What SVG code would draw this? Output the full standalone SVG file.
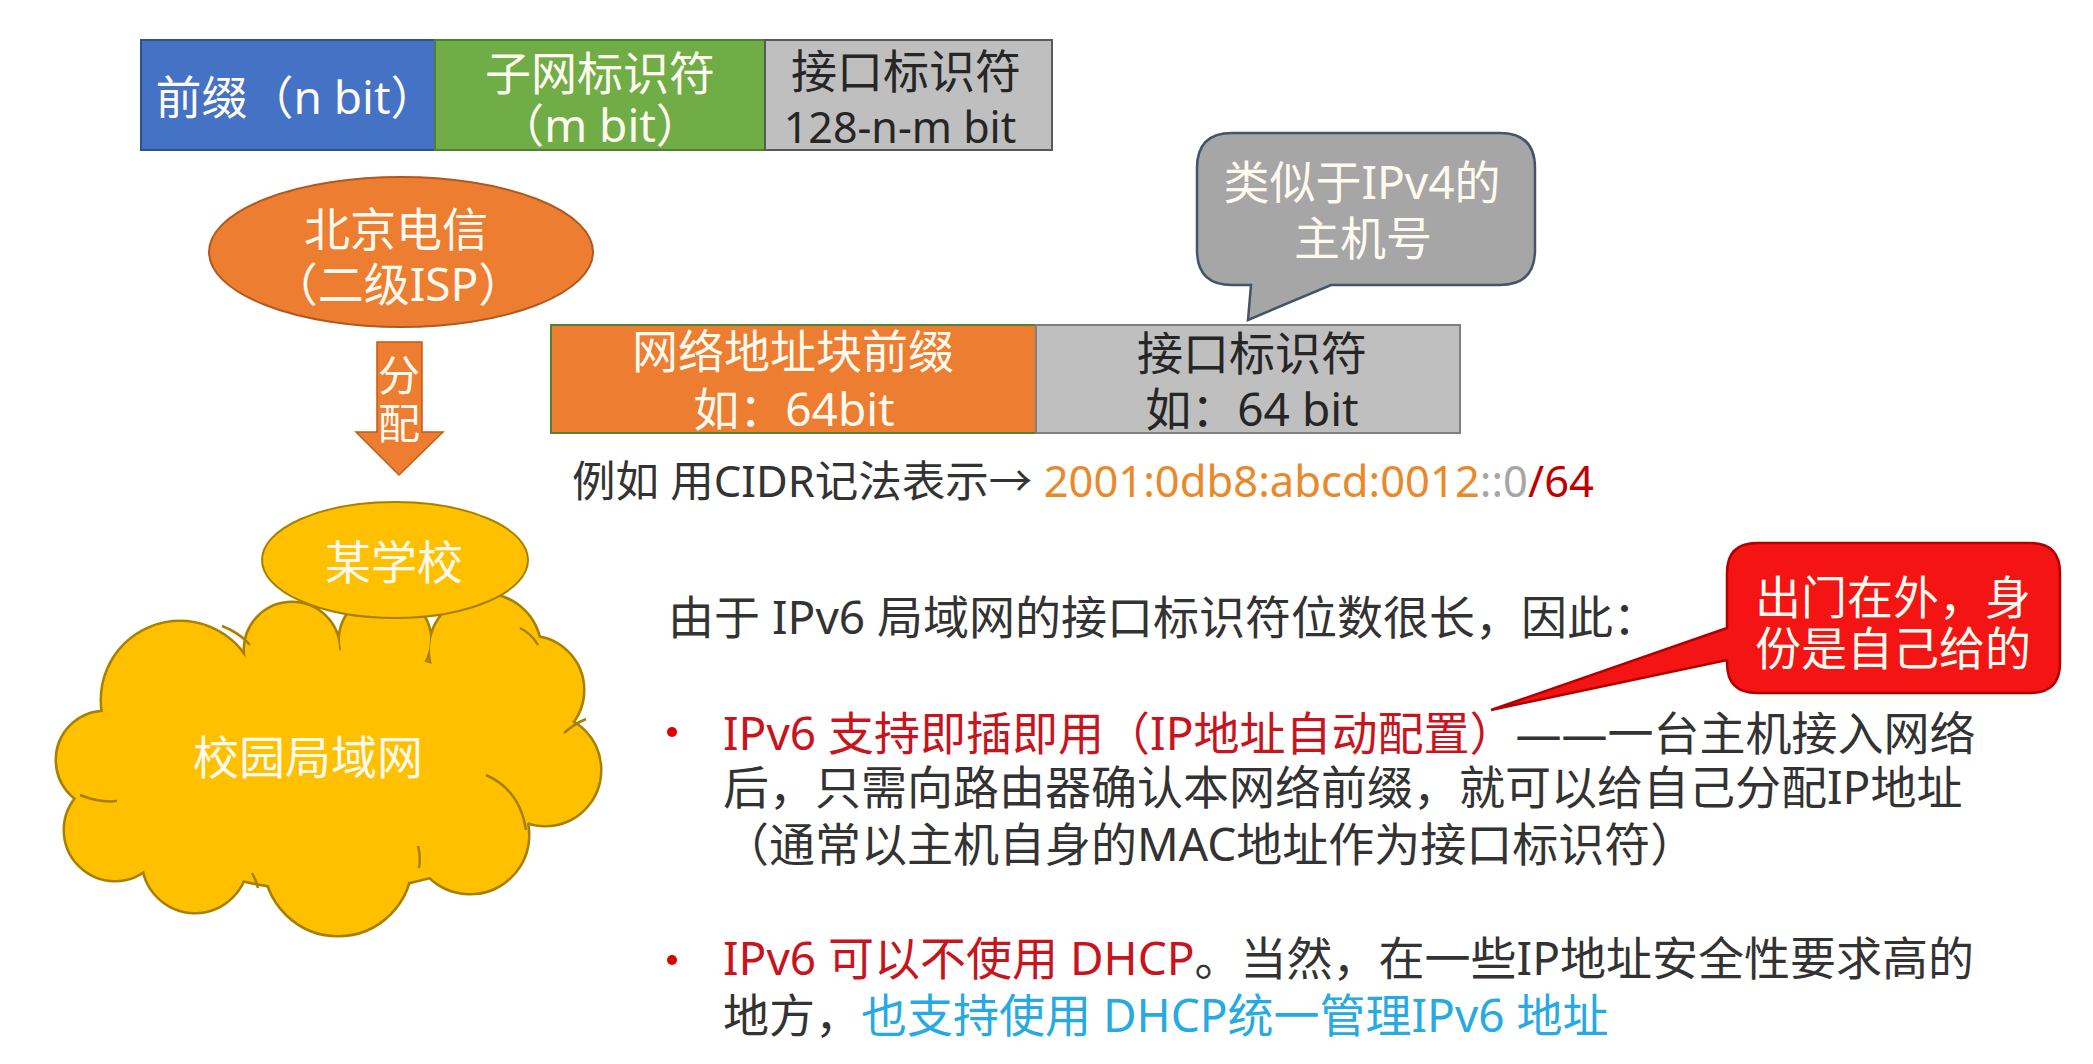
<svg xmlns="http://www.w3.org/2000/svg" xmlns:xlink="http://www.w3.org/1999/xlink" width="2093" height="1064" viewBox="0 0 2093 1064">
<style>
text{font-family:"Noto Sans","Noto Sans CJK SC",sans-serif;font-size:46px}
.w{fill:#FFFAF0}
.k{fill:#262626}
.body{fill:#333333}
.red{fill:#C8141C}
.blue{fill:#27A9E1}
.mid{text-anchor:middle}
.inner{fill:none;stroke:#A88000;stroke-width:2.5}
</style>
<defs>
<g id="cloudShapes">
<ellipse cx="330" cy="770" rx="220" ry="120"/>
<circle cx="105" cy="760" r="48"/>
<circle cx="115" cy="830" r="50"/>
<circle cx="195" cy="860" r="52"/>
<circle cx="338" cy="862" r="73"/>
<circle cx="470" cy="835" r="58"/>
<circle cx="545" cy="770" r="55"/>
<circle cx="530" cy="690" r="53"/>
<circle cx="485" cy="650" r="55"/>
<circle cx="385" cy="640" r="45"/>
<circle cx="292" cy="650" r="47"/>
<circle cx="180" cy="700" r="78"/>
</g>
</defs>
<rect width="2093" height="1064" fill="#FFFFFF"/>

<g id="top-bar">
<rect x="141" y="40" width="294" height="110" fill="#4472C4" stroke="#2F528F" stroke-width="2"/>
<rect x="435" y="40" width="330" height="110" fill="#70AD47" stroke="#507E32" stroke-width="2"/>
<rect x="765" y="40" width="287" height="110" fill="#BFBFBF" stroke="#595959" stroke-width="2"/>
<text class="w mid" x="296" y="114">前缀（n bit）</text>
<text class="w mid" x="600" y="90">子网标识符</text>
<text class="w mid" x="600" y="142">（m bit）</text>
<text class="k mid" x="906" y="88">接口标识符</text>
<text class="k mid" x="900" y="143" style="font-size:43px">128-n-m bit</text>
</g>

<g id="isp">
<ellipse cx="401" cy="252" rx="192" ry="75" fill="#ED7D31" stroke="#AE5A21" stroke-width="2"/>
<text class="w mid" x="396" y="246">北京电信</text>
<text class="w mid" x="398" y="301">（二级ISP）</text>
</g>

<g id="allocate-arrow">
<path d="M377,342 H422 V432 H443 L399,475 L356,432 H377 Z" fill="#ED7D31" stroke="#C55A11" stroke-width="1.5"/>
<text class="w mid" x="399" y="391" style="font-size:42px">分</text>
<text class="w mid" x="399" y="439" style="font-size:42px">配</text>
</g>

<g id="campus-lan">
<use xlink:href="#cloudShapes" href="#cloudShapes" fill="#FFC000" stroke="#A88000" stroke-width="5"/>
<use xlink:href="#cloudShapes" href="#cloudShapes" fill="#FFC000" stroke="none"/>
<path class="inner" d="M80,795 Q100,803 117,801"/>
<path class="inner" d="M222,626 Q240,633 250,645"/>
<path class="inner" d="M520,628 Q532,634 538,645"/>
<path class="inner" d="M564,733 Q574,724 586,719"/>
<path class="inner" d="M486,775 Q520,790 526,830"/>
<path class="inner" d="M419,868 Q421,858 418,846"/>
<path class="inner" d="M258,888 Q256,880 252,873"/>
<text class="w mid" x="308" y="774">校园局域网</text>
</g>

<g id="school">
<ellipse cx="395" cy="560" rx="133" ry="58" fill="#FFC000" stroke="#A88000" stroke-width="2"/>
<text class="w mid" x="394" y="579">某学校</text>
</g>

<g id="address-bar">
<rect x="551" y="325" width="485" height="108" fill="#ED7D31" stroke="#548235" stroke-width="2"/>
<rect x="1036" y="325" width="424" height="108" fill="#BFBFBF" stroke="#7F7F7F" stroke-width="2"/>
<text class="w mid" x="793" y="368">网络地址块前缀</text>
<text class="w mid" x="794" y="426">如：64bit</text>
<text class="k mid" x="1252" y="370">接口标识符</text>
<text class="k mid" x="1252" y="426">如：64 bit</text>
</g>

<g id="callout-host">
<path d="M1232,133 H1500 Q1535,133 1535,168 V250 Q1535,285 1500,285 H1331 L1248,320 L1251,285 H1232 Q1197,285 1197,250 V168 Q1197,133 1232,133 Z" fill="#A6A6A6" stroke="#44546A" stroke-width="2.5"/>
<text class="w mid" x="1362" y="199">类似于IPv4的</text>
<text class="w mid" x="1363" y="255">主机号</text>
</g>

<g id="cidr-example">
<text x="572" y="497" style="font-size:43.5px"><tspan class="body">例如 用CIDR记法表示→ </tspan><tspan fill="#E8892B">2001:0db8:abcd:0012</tspan><tspan fill="#A6A6A6">::0</tspan><tspan fill="#C00000">/64</tspan></text>
</g>

<g id="explanation">
<text class="body" x="668" y="634">由于 IPv6 局域网的接口标识符位数很长，因此：</text>
<circle cx="672" cy="732" r="5" fill="#E00000"/>
<text x="723" y="750"><tspan class="red">IPv6 支持即插即用（IP地址自动配置）</tspan><tspan class="body">——一台主机接入网络</tspan></text>
<text class="body" x="723" y="804">后，只需向路由器确认本网络前缀，就可以给自己分配IP地址</text>
<text class="body" x="723" y="861">（通常以主机自身的MAC地址作为接口标识符）</text>
<circle cx="672" cy="960" r="5" fill="#E00000"/>
<text x="723" y="975"><tspan class="red">IPv6 可以不使用 DHCP</tspan><tspan class="body">。当然，在一些IP地址安全性要求高的</tspan></text>
<text x="723" y="1032"><tspan class="body">地方，</tspan><tspan class="blue">也支持使用 DHCP统一管理IPv6 地址</tspan></text>
</g>

<g id="callout-self">
<path d="M1757,543 H2030 Q2060,543 2060,573 V663 Q2060,693 2030,693 H1757 Q1727,693 1727,663 V660 L1491,710 L1727,628 V573 Q1727,543 1757,543 Z" fill="#F41414" stroke="#B00000" stroke-width="2.5"/>
<text class="w mid" x="1893" y="614">出门在外，身</text>
<text class="w mid" x="1893" y="665">份是自己给的</text>
</g>
</svg>
